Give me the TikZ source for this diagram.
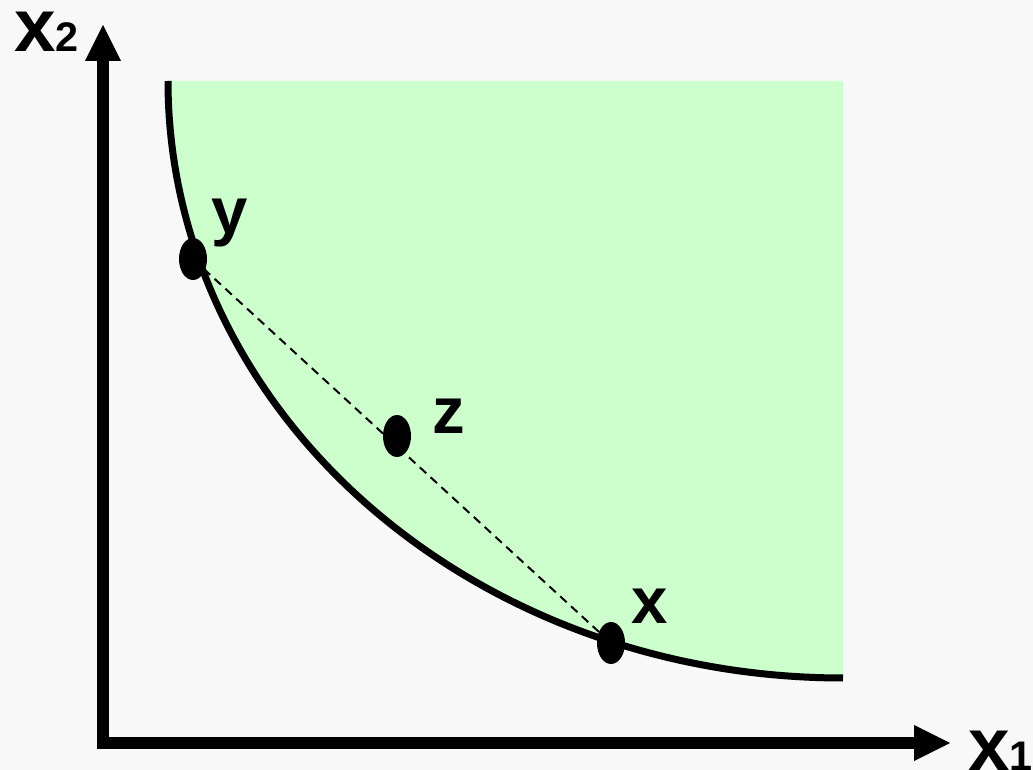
\documentclass[tikz,border=0pt]{standalone}
\usepackage{fontspec}
\setmainfont{Liberation Sans}
\usetikzlibrary{shapes.geometric}
\definecolor{bg}{HTML}{F8F8F8}
\definecolor{region}{HTML}{CCFFCC}
\begin{document}
\begin{tikzpicture}[x=0.75pt,y=-0.75pt,
  axis/.style={line width=9pt},
  curveline/.style={line width=5.25pt},
  dot/.style={ellipse,fill=black,inner sep=0pt,minimum width=21pt,minimum height=31.5pt},
  ptlabel/.style={anchor=base west,inner sep=0pt,font=\fontsize{49}{49}\selectfont\bfseries},
  axlabel/.style={anchor=base west,inner sep=0pt,font=\bfseries},
  dashline/.style={line width=1.5pt,dash pattern=on 6.5pt off 4.5pt}]
\fill[bg] (0,0) rectangle (1033,770);
\useasboundingbox (0,0) rectangle (1033,770);
% feasible region (quarter ellipse boundary)
\fill[region] plot[domain=180:270,samples=91,smooth] ({843+675*cos(\x)},{81-597*sin(\x)}) -- (843,81) -- cycle;
\draw[curveline] plot[domain=180:270,samples=91,smooth] ({843+675*cos(\x)},{81-597*sin(\x)});
% axes
\draw[axis] (103,749) -- (103,58);
\draw[axis] (97,743) -- (917,743);
\fill (103,25) -- (85,61) -- (121,61) -- cycle;
\fill (950,743) -- (914,725) -- (914,761) -- cycle;
\node[axlabel] (lx2) at (14,52) {\fontsize{56}{56}\selectfont x\fontsize{31}{31}\selectfont 2};
\node[axlabel] (lx1) at (968,770) {\fontsize{56}{56}\selectfont x\fontsize{31}{31}\selectfont 1};
% points
\node[dot] (y) at (193,259) {};
\node[dot] (z) at (397,436) {};
\node[dot] (x) at (611,643) {};
\draw[dashline] (y.center) -- (x.center);
\node[ptlabel] (ly) at (211,234) {y};
\node[ptlabel] (lz) at (432,433) {z};
\node[ptlabel] (lx) at (631,623) {x};
\end{tikzpicture}
\end{document}
